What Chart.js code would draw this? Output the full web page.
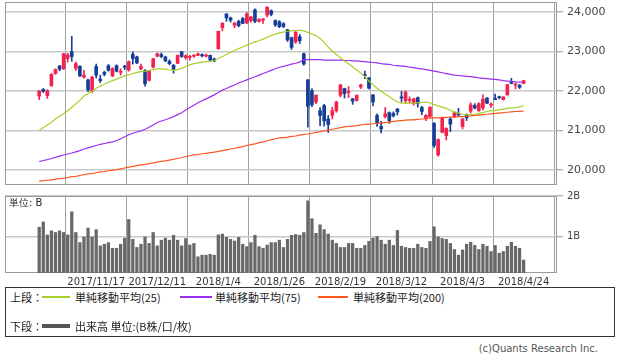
<!DOCTYPE html>
<html>
<head>
<meta charset="utf-8">
<script src="https://cdn.jsdelivr.net/npm/chart.js@4.4.0/dist/chart.umd.min.js"></script>
<style>
  body { margin: 0; background: #fff; }
  #wrap { position: relative; width: 620px; height: 355px; overflow: hidden; font-family: "Noto Sans CJK JP", "DejaVu Sans", sans-serif; }
  canvas { position: absolute; left: 0; }
  .t { position: absolute; font-size: 11px; color: #222; white-space: nowrap; line-height: 14px; }
  .ln { position: absolute; height: 2px; }
</style>
</head>
<body>
<div id="wrap">
  <canvas id="price" width="620" height="185" style="top:0"></canvas>
  <canvas id="vol" width="620" height="97" style="top:190px"></canvas>
  <div class="t" style="left:9px;top:196px;font-size:10px;font-family:'DejaVu Sans';">単位: B</div>

  <div style="position:absolute;left:5px;top:287px;width:608px;height:48px;border:1px solid #333;"></div>
  <div class="t" style="left:10px;top:290px;">上段：</div>
  <div class="ln" style="left:42px;top:296px;width:28px;background:#a8cf2a;"></div>
  <div class="t" style="left:75px;top:290px;">単純移動平均(25)</div>
  <div class="ln" style="left:180px;top:296px;width:32px;background:#9b30f0;"></div>
  <div class="t" style="left:215px;top:290px;">単純移動平均(75)</div>
  <div class="ln" style="left:318px;top:296px;width:30px;background:#ff5722;"></div>
  <div class="t" style="left:353px;top:290px;">単純移動平均(200)</div>
  <div class="t" style="left:10px;top:319px;">下段：</div>
  <div class="ln" style="left:42px;top:324px;width:28px;height:4px;background:#555;"></div>
  <div class="t" style="left:75px;top:319px;">出来高 単位:(B株/口/枚)</div>
  <div class="t" style="right:22px;top:342px;font-size:10px;color:#555;font-family:'DejaVu Sans';">(c)Quants Research Inc.</div>
</div>
<script>
const dates = [
  '2017/10/27','2017/10/30','2017/10/31','2017/11/1','2017/11/2','2017/11/6','2017/11/7','2017/11/8','2017/11/9','2017/11/10',
  '2017/11/13','2017/11/14','2017/11/15','2017/11/16','2017/11/17','2017/11/20','2017/11/21','2017/11/22','2017/11/24','2017/11/27',
  '2017/11/28','2017/11/29','2017/11/30','2017/12/1','2017/12/4','2017/12/5','2017/12/6','2017/12/7','2017/12/8','2017/12/11',
  '2017/12/12','2017/12/13','2017/12/14','2017/12/15','2017/12/18','2017/12/19','2017/12/20','2017/12/21','2017/12/22','2017/12/25',
  '2017/12/26','2017/12/27','2017/12/28','2017/12/29','2018/1/4','2018/1/5','2018/1/9','2018/1/10','2018/1/11','2018/1/12',
  '2018/1/15','2018/1/16','2018/1/17','2018/1/18','2018/1/19','2018/1/22','2018/1/23','2018/1/24','2018/1/25','2018/1/26',
  '2018/1/29','2018/1/30','2018/1/31','2018/2/1','2018/2/2','2018/2/5','2018/2/6','2018/2/7','2018/2/8','2018/2/9',
  '2018/2/13','2018/2/14','2018/2/15','2018/2/16','2018/2/19','2018/2/20','2018/2/21','2018/2/22','2018/2/23','2018/2/26',
  '2018/2/27','2018/2/28','2018/3/1','2018/3/2','2018/3/5','2018/3/6','2018/3/7','2018/3/8','2018/3/9','2018/3/12',
  '2018/3/13','2018/3/14','2018/3/15','2018/3/16','2018/3/19','2018/3/20','2018/3/22','2018/3/23','2018/3/26','2018/3/27',
  '2018/3/28','2018/3/29','2018/3/30','2018/4/2','2018/4/3','2018/4/4','2018/4/5','2018/4/6','2018/4/9','2018/4/10',
  '2018/4/11','2018/4/12','2018/4/13','2018/4/16','2018/4/17','2018/4/18','2018/4/19','2018/4/20','2018/4/23','2018/4/24'
];
const tickDates = ['2017/11/17','2017/12/11','2018/1/4','2018/1/26','2018/2/19','2018/3/12','2018/4/3','2018/4/24'];
const priceTicks = [20000, 21000, 22000, 23000, 24000];
const volTicks = [1, 2];

const opens = [
  21870,22040,21880,22130,22440,22630,22560,22820,22990,22570,
  22620,22350,22280,21990,22620,22300,22470,22640,22380,22640,
  22470,22620,22530,22930,22860,22560,22520,22270,22600,22880,
  22920,22860,22750,22650,22700,22990,22840,22850,22880,22900,
  22920,22880,22900,22810,23070,23600,23950,23850,23660,23760,
  23830,23720,23780,24050,23760,23790,23920,24030,23780,23750,
  23700,23550,23350,23240,23370,22940,22280,22010,21720,21500,
  21630,21290,21380,21500,21890,22060,21960,21800,21760,22100,
  22410,22330,21900,21380,21100,21350,21450,21430,21540,21850,
  21750,21760,21680,21830,21580,21300,21350,21180,20380,20950,
  20870,21290,21340,21430,21100,21390,21490,21630,21500,21570,
  21820,21640,21810,21850,21780,21900,22230,22150,22150,22190
];
const highs = [
  22010,22060,22030,22440,22560,22650,22950,22950,23380,22730,
  22640,22520,22300,22370,22680,22400,22500,22670,22590,22660,
  22560,22650,22760,22990,22880,22680,22540,22520,22830,22960,
  22960,22880,22790,22670,22910,23000,22920,22900,22920,22960,
  22940,22930,22910,22830,23510,23730,23950,23870,23740,23790,
  23860,23980,23890,24080,23830,23840,24130,24050,23800,23780,
  23730,23560,23360,23500,23430,22960,22290,22050,21900,21580,
  21660,21380,21590,21740,22170,22070,22110,21810,21900,22170,
  22500,22340,21910,21420,21230,21580,21470,21470,21560,21990,
  22000,21850,21820,21850,21610,21400,21600,21200,20790,21320,
  21070,21330,21470,21560,21300,21420,21700,21680,21700,21900,
  21830,21700,21920,21870,21850,22160,22320,22200,22160,22270
];
const lows = [
  21780,21960,21810,22120,22420,22510,22540,22730,22750,22520,
  22360,22320,21980,21960,22330,22210,22380,22500,22360,22480,
  22400,22540,22500,22680,22690,22540,22120,22250,22580,22860,
  22840,22740,22660,22450,22690,22850,22800,22780,22850,22890,
  22860,22860,22760,22740,23050,23520,23760,23740,23600,23620,
  23700,23700,23740,23730,23740,23710,23870,23900,23630,23600,
  23600,23250,23050,23200,23200,22650,21080,21600,21680,21120,
  21110,20950,21290,21460,21850,21820,21830,21660,21740,22060,
  22310,22050,21620,21100,20940,21310,21180,21340,21390,21720,
  21690,21690,21640,21590,21400,21250,21330,20570,20350,20940,
  20760,20970,21320,21380,21040,21250,21440,21540,21480,21520,
  21680,21580,21780,21800,21770,21890,22180,22050,22060,22180
];
const closes = [
  22000,21990,22010,22420,22540,22550,22940,22910,22870,22690,
  22380,22400,22030,22350,22400,22260,22420,22520,22560,22500,
  22490,22600,22740,22820,22710,22620,22180,22500,22810,22940,
  22870,22760,22690,22550,22900,22870,22890,22870,22900,22940,
  22890,22910,22780,22760,23510,23710,23850,23790,23710,23650,
  23710,23950,23870,23760,23810,23820,24120,23940,23670,23630,
  23630,23290,23100,23490,23270,22680,21610,21650,21890,21380,
  21240,21150,21500,21720,22150,21930,21970,21740,21890,22150,
  22390,22070,21720,21180,21040,21420,21250,21370,21470,21820,
  21970,21780,21800,21680,21480,21380,21590,20620,20770,21310,
  21050,21160,21450,21390,21290,21320,21650,21570,21680,21790,
  21690,21660,21780,21830,21850,22160,22190,22160,22090,22260
];
const ma25 = [
  21000,21070,21140,21210,21290,21360,21430,21500,21580,21680,
  21760,21870,21930,21990,22070,22120,22170,22220,22260,22300,
  22340,22380,22410,22440,22470,22490,22500,22520,22540,22560,
  22560,22550,22530,22520,22540,22570,22620,22660,22690,22710,
  22730,22740,22750,22770,22820,22870,22920,22980,23030,23070,
  23110,23160,23200,23240,23270,23310,23360,23400,23440,23470,
  23490,23510,23520,23530,23535,23520,23480,23440,23400,23330,
  23230,23110,23010,22920,22840,22760,22690,22610,22530,22450,
  22360,22250,22160,22070,21990,21920,21860,21780,21720,21690,
  21690,21690,21690,21700,21710,21720,21700,21660,21620,21590,
  21560,21510,21470,21440,21410,21400,21400,21410,21430,21450,
  21480,21500,21510,21520,21540,21560,21570,21580,21600,21620
];
const ma75 = [
  20210,20240,20260,20290,20320,20350,20380,20405,20430,20460,
  20490,20530,20560,20590,20620,20650,20670,20690,20710,20740,
  20790,20840,20890,20930,20960,20990,21030,21080,21140,21200,
  21240,21270,21310,21350,21400,21450,21520,21580,21640,21700,
  21750,21800,21850,21900,21960,22020,22060,22110,22150,22200,
  22240,22280,22320,22360,22400,22440,22480,22520,22560,22600,
  22620,22650,22680,22700,22730,22790,22790,22790,22790,22790,
  22780,22780,22780,22780,22780,22770,22770,22760,22760,22750,
  22740,22730,22720,22710,22690,22680,22670,22650,22640,22630,
  22620,22600,22590,22570,22560,22540,22520,22500,22480,22460,
  22440,22420,22400,22390,22380,22370,22360,22350,22330,22320,
  22310,22300,22290,22280,22260,22250,22240,22230,22225,22220
];
const ma200 = [
  19720,19730,19740,19750,19770,19780,19790,19810,19830,19840,
  19860,19880,19900,19910,19930,19950,19960,19980,19990,20010,
  20030,20050,20070,20090,20110,20130,20140,20160,20180,20200,
  20220,20230,20250,20270,20290,20310,20340,20360,20380,20390,
  20410,20420,20440,20450,20470,20490,20510,20530,20550,20570,
  20590,20620,20640,20660,20690,20710,20740,20760,20790,20810,
  20820,20830,20850,20860,20880,20900,20910,20930,20950,20970,
  20990,21010,21030,21050,21070,21090,21100,21110,21120,21140,
  21150,21160,21170,21180,21190,21200,21210,21230,21240,21250,
  21260,21270,21270,21280,21290,21300,21310,21320,21320,21330,
  21330,21340,21340,21350,21350,21360,21370,21380,21390,21400,
  21410,21420,21430,21440,21450,21460,21470,21480,21485,21490
];
const volume = [
  1.23,1.36,1.04,1.14,1.10,1.14,1.10,1.04,1.61,1.10,
  0.85,0.99,1.21,0.99,1.17,0.77,0.81,0.85,0.71,0.71,
  0.81,0.96,1.42,0.93,0.73,0.81,0.99,0.83,1.10,0.77,
  0.91,0.96,0.91,1.03,0.91,0.77,0.95,0.79,0.83,0.50,
  0.54,0.54,0.56,0.54,1.04,1.06,0.98,0.93,0.89,0.98,
  0.81,0.75,0.85,1.03,0.75,0.71,0.79,0.85,0.85,0.91,
  0.73,0.93,1.03,1.05,1.03,1.10,1.88,1.44,1.08,1.29,
  1.17,1.06,0.91,0.83,0.73,0.73,0.83,0.83,0.71,0.71,
  0.78,0.88,0.96,1.00,0.91,0.81,0.91,0.78,1.15,0.76,
  0.73,0.71,0.71,0.81,0.73,0.71,0.88,1.24,0.99,0.95,
  0.93,0.83,0.68,0.54,0.67,0.81,0.86,0.78,0.68,0.81,
  0.76,0.63,0.78,0.59,0.63,0.76,0.86,0.76,0.71,0.42
];

const UP = '#f2224e', DOWN = '#163e98';
const tickIdx = tickDates.map(d => dates.indexOf(d));
const xMin = -8.4, xMax = 127.2;

const framePlugin = {
  id: 'frame',
  beforeDatasetsDraw(chart) {
    const a = chart.chartArea, c = chart.ctx;
    c.save();
    c.strokeStyle = '#9a9a9a';
    c.lineWidth = 1;
    c.strokeRect(Math.round(a.left) + 0.5, Math.round(a.top) + 0.5,
      Math.round(a.right - a.left) - 1, Math.round(a.bottom - a.top) - 1);
    c.restore();
  }
};

function candleColor(ctx) {
  const i = ctx.dataIndex;
  return closes[i] > opens[i] ? UP : DOWN;
}
function line(data, color) {
  return {
    type: 'line', data: data.map((v, i) => ({ x: i, y: v })),
    borderColor: color, borderWidth: 1.2, pointRadius: 0, tension: 0, order: 0
  };
}
// keep the plot edges where the reference has them
function fixY(s) {
  s.width = 63;
  s.paddingTop = 0;
  s.paddingBottom = 0;
}

new Chart(document.getElementById('price'), {
  type: 'bar',
  data: {
    datasets: [
      line(ma25, '#a8cf2a'),
      line(ma75, '#9b30f0'),
      line(ma200, '#ff5722'),
      {
        data: opens.map((o, i) => ({ x: i, y: [o, closes[i]] })),
        backgroundColor: candleColor, barThickness: 3, minBarLength: 1,
        grouped: false, order: 1
      },
      {
        data: lows.map((l, i) => ({ x: i, y: [l, highs[i]] })),
        backgroundColor: candleColor, barThickness: 1,
        grouped: false, order: 2
      }
    ]
  },
  options: {
    responsive: false, animation: false, devicePixelRatio: 1,
    layout: { padding: { left: 5, top: 2, right: 0, bottom: 0 } },
    plugins: { legend: { display: false }, tooltip: { enabled: false } },
    scales: {
      x: {
        type: 'linear', min: xMin, max: xMax, offset: false,
        afterBuildTicks: s => { s.ticks = tickIdx.map(v => ({ value: v })); },
        afterFit: s => { s.height = 0; s.paddingLeft = 0; s.paddingRight = 0; },
        grid: { color: '#a0a0a0', lineWidth: 1, drawTicks: false },
        border: { display: false },
        ticks: { display: false }
      },
      y: {
        position: 'right', min: 19620, max: 24250,
        afterBuildTicks: s => { s.ticks = priceTicks.map(v => ({ value: v })); },
        afterFit: fixY,
        grid: { color: '#c8c8c8', lineWidth: 1.5, tickLength: 6, tickColor: '#999', tickWidth: 1 },
        border: { display: false },
        ticks: {
          padding: 4, color: '#444',
          font: { family: 'DejaVu Sans', size: 11 },
          callback: v => v.toLocaleString('en-US')
        }
      }
    }
  },
  plugins: [framePlugin]
});

new Chart(document.getElementById('vol'), {
  type: 'bar',
  data: {
    datasets: [{
      data: volume.map((v, i) => ({ x: i, y: v })),
      backgroundColor: '#686868', barThickness: 2.6, grouped: false
    }]
  },
  options: {
    responsive: false, animation: false, devicePixelRatio: 1,
    layout: { padding: { left: 5, top: 6, right: 0, bottom: 0 } },
    plugins: { legend: { display: false }, tooltip: { enabled: false } },
    scales: {
      x: {
        type: 'linear', min: xMin, max: xMax, offset: false,
        afterBuildTicks: s => { s.ticks = tickIdx.map(v => ({ value: v })); },
        afterFit: s => { s.height = 14; s.paddingLeft = 0; s.paddingRight = 0; },
        grid: { color: '#a0a0a0', lineWidth: 1, drawTicks: false },
        border: { display: false },
        ticks: {
          autoSkip: false, maxRotation: 0, padding: 3, color: '#333',
          font: { family: 'DejaVu Sans', size: 10 },
          callback: v => dates[v]
        }
      },
      y: {
        position: 'right', min: 0.1, max: 2,
        afterBuildTicks: s => { s.ticks = volTicks.map(v => ({ value: v })); },
        afterFit: fixY,
        grid: { color: '#c8c8c8', lineWidth: 1.5, tickLength: 6, tickColor: '#999', tickWidth: 1 },
        border: { display: false },
        ticks: {
          padding: 4, color: '#444',
          font: { family: 'DejaVu Sans', size: 10 },
          callback: v => v + 'B'
        }
      }
    }
  },
  plugins: [framePlugin]
});
</script>
</body>
</html>
